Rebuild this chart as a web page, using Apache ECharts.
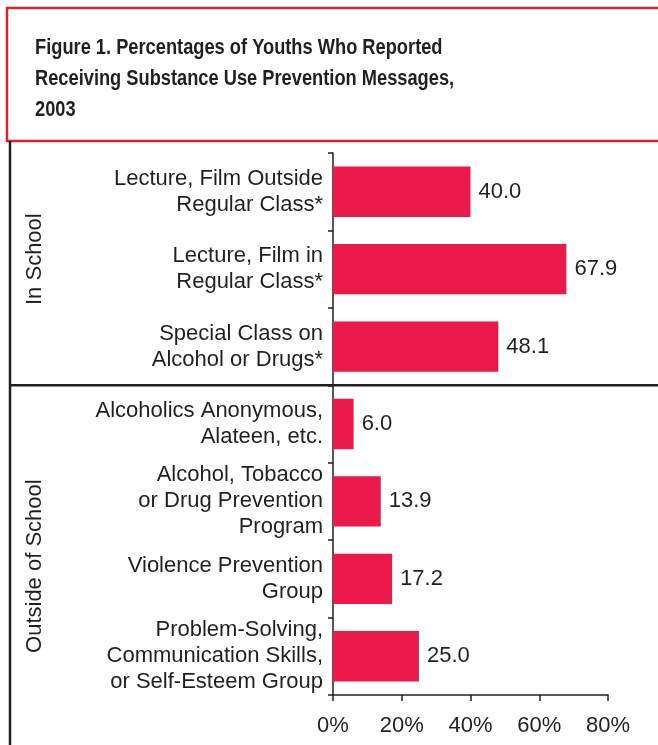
<!DOCTYPE html>
<html>
<head>
<meta charset="utf-8">
<script src="https://cdn.jsdelivr.net/npm/echarts@6/dist/echarts.min.js"></script>
<style>
  html, body { margin: 0; padding: 0; background: #ffffff; }
  #chart { width: 658px; height: 745px; }
</style>
</head>
<body>
<div id="chart"></div>
<script>
// Prevention message sources (top to bottom)
const categories = [
  'Lecture, Film Outside\nRegular Class*',
  'Lecture, Film in\nRegular Class*',
  'Special Class on\nAlcohol or Drugs*',
  'Alcoholics Anonymous,\nAlateen, etc.',
  'Alcohol, Tobacco\nor Drug Prevention\nProgram',
  'Violence Prevention\nGroup',
  'Problem-Solving,\nCommunication Skills,\nor Self-Esteem Group'
];
// Percent of youths reporting each message source
const values = [40.0, 67.9, 48.1, 6.0, 13.9, 17.2, 25.0];
// Setting groups: first three are in school, rest outside
const groupNames = ['In School', 'Outside of School'];
const groupSizes = [3, 4];
// Percent axis ticks
const xTicks = [0, 20, 40, 60, 80];

const titleText = 'Figure 1. Percentages of Youths Who Reported\nReceiving Substance Use Prevention Messages,\n2003';

const INK = '#231f20';
const BAR = '#ec1a4b';
const FRAME_RED = '#e3202c';
const FONT = '"Liberation Sans", Arial, Helvetica, sans-serif';
const FS = 22;

const chart = echarts.init(document.getElementById('chart'), null, { renderer: 'canvas' });

const option = {
  backgroundColor: '#ffffff',
  animation: false,
  grid: { left: 333, right: 50, top: 153, bottom: 50, containLabel: false },
  xAxis: {
    type: 'value',
    min: xTicks[0],
    max: xTicks[xTicks.length - 1],
    interval: xTicks[1] - xTicks[0],
    axisLine: { show: true, lineStyle: { color: INK, width: 1.5 } },
    axisTick: { show: true, length: 6, lineStyle: { color: INK, width: 1.5 } },
    splitLine: { show: false },
    axisLabel: {
      formatter: '{value}%',
      margin: 20,
      fontFamily: FONT,
      fontSize: FS,
      color: INK
    }
  },
  yAxis: {
    type: 'category',
    data: categories,
    inverse: true,
    axisLine: { show: true, lineStyle: { color: INK, width: 1.5 } },
    axisTick: { show: true, length: 5, lineStyle: { color: INK, width: 1.5 } },
    axisLabel: {
      margin: 10,
      fontFamily: FONT,
      fontSize: FS,
      lineHeight: 26,
      color: INK,
      align: 'right'
    }
  },
  series: [{
    type: 'bar',
    data: values,
    barCategoryGap: '35%',
    itemStyle: { color: BAR },
    label: {
      show: true,
      position: 'right',
      distance: 8,
      fontFamily: FONT,
      fontSize: FS,
      color: INK,
      formatter: p => p.value.toFixed(1)
    }
  }]
};

chart.setOption(option);

// Frames, group divider, condensed title and rotated group labels
const W = 658, H = 745;
const bandTop = chart.convertToPixel({ yAxisIndex: 0 }, 0);
const bandNext = chart.convertToPixel({ yAxisIndex: 0 }, 1);
const band = bandNext - bandTop;
const gridTop = bandTop - band / 2;
const dividerY = gridTop + band * groupSizes[0];
const gridBottom = gridTop + band * categories.length;

chart.setOption({
  graphic: [
    {
      type: 'rect',
      shape: { x: 7, y: 8, width: W + 10, height: 133 },
      style: { fill: null, stroke: FRAME_RED, lineWidth: 2.5 },
      z: 10
    },
    {
      type: 'text',
      x: 35,
      y: 32,
      scaleX: 0.83,
      style: {
        text: titleText,
        fontFamily: FONT,
        fontWeight: 'bold',
        fontSize: 22,
        lineHeight: 31,
        fill: INK,
        align: 'left',
        verticalAlign: 'top'
      },
      z: 10
    },
    {
      type: 'line',
      shape: { x1: 10, y1: 141, x2: 10, y2: H },
      style: { stroke: INK, lineWidth: 2.5 },
      z: 10
    },
    {
      type: 'line',
      shape: { x1: 11, y1: dividerY, x2: W, y2: dividerY },
      style: { stroke: INK, lineWidth: 2.5 },
      z: 10
    },
    {
      type: 'text',
      x: 35,
      y: (gridTop + dividerY) / 2 - 10,
      rotation: Math.PI / 2,
      style: {
        text: groupNames[0],
        fontFamily: FONT,
        fontSize: FS,
        fill: INK,
        align: 'center',
        verticalAlign: 'middle'
      },
      z: 10
    },
    {
      type: 'text',
      x: 35,
      y: (dividerY + gridBottom) / 2 + 26,
      rotation: Math.PI / 2,
      style: {
        text: groupNames[1],
        fontFamily: FONT,
        fontSize: FS,
        fill: INK,
        align: 'center',
        verticalAlign: 'middle'
      },
      z: 10
    }
  ]
});
</script>
</body>
</html>
